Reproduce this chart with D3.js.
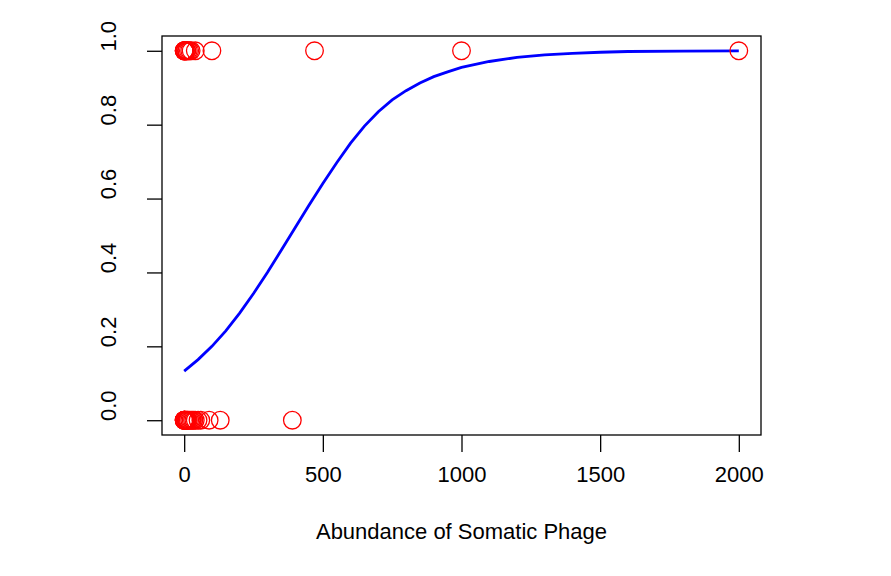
<!DOCTYPE html>
<html><head><meta charset="utf-8">
<script src="https://cdn.jsdelivr.net/npm/d3@7/dist/d3.min.js"></script>
<style>body{margin:0;background:#fff}svg{display:block}text{font-family:"Liberation Sans",Arial,sans-serif}</style>
</head><body>
<script>
// observed points (x = abundance, y = outcome 0/1)
const topX = [0,0,0,1,2,3,5,8,10,15,20,25,40,100,470,1000,2000];
const bottomX = [0,0,0,0,1,2,3,5,7,10,12,15,20,25,30,35,40,50,60,90,130,390];
// fitted curve
const curveX = [0,50,100,150,200,250,300,350,400,450,500,550,600,650,700,750,800,850,900,950,1000,1100,1200,1300,1400,1500,1600,1800,2000];
const curveY = [0.133,0.164,0.200,0.242,0.290,0.343,0.400,0.460,0.521,0.582,0.641,0.697,0.750,0.796,0.835,0.867,0.892,0.913,0.930,0.943,0.955,0.971,0.982,0.989,0.993,0.996,0.998,0.999,0.9995];
const xTicks = [0,500,1000,1500,2000];
const yTicks = [0,0.2,0.4,0.6,0.8,1.0];
const xTitle = "Abundance of Somatic Phage";

const W=891,H=576;
const svg=d3.select("body").append("svg").attr("width",W).attr("height",H);
const x=d3.scaleLinear().domain([-80,2080]).range([162,761]);
const y=d3.scaleLinear().domain([-0.04,1.04]).range([435,36]);
const fs=22;

// box
svg.append("rect").attr("x",162).attr("y",36).attr("width",761-162).attr("height",435-36)
  .attr("fill","none").attr("stroke","#000").attr("stroke-width",1.3);

// x axis
const xa=svg.append("g").attr("transform","translate(0,435)")
  .call(d3.axisBottom(x).tickValues(xTicks).tickSize(17).tickPadding(14).tickFormat(d3.format("d")));
xa.select(".domain").remove();
xa.selectAll("line").attr("stroke","#000").attr("stroke-width",1.3).attr("y1",0);
xa.selectAll("text").attr("font-size",fs).attr("fill","#000").attr("font-family","Liberation Sans, Arial, sans-serif");
// y axis
const ya=svg.append("g").attr("transform","translate(162,0)")
  .call(d3.axisLeft(y).tickValues(yTicks).tickSize(15).tickFormat(d3.format(".1f")));
ya.select(".domain").remove();
ya.selectAll("line").attr("stroke","#000").attr("stroke-width",1.3);
ya.selectAll("text").attr("font-size",fs).attr("fill","#000").attr("font-family","Liberation Sans, Arial, sans-serif")
  .attr("text-anchor","middle").attr("x",null)
  .attr("transform","translate(-46,-15) rotate(-90)").attr("dy","0");

// title
svg.append("text").attr("x",(162+761)/2).attr("y",539).attr("text-anchor","middle")
  .attr("font-size",fs).text(xTitle);

// curve
const curve=curveX.map((v,i)=>[v,curveY[i]]);
svg.append("path").datum(curve).attr("fill","none").attr("stroke","#0000ff").attr("stroke-width",2.8)
  .attr("d",d3.line().x(d=>x(d[0])).y(d=>y(d[1])));

// points
const pts=topX.map(v=>[v,1]).concat(bottomX.map(v=>[v,0]));
svg.append("g").selectAll("circle").data(pts).join("circle")
  .attr("cx",d=>x(d[0])).attr("cy",d=>y(d[1])).attr("r",8.8)
  .attr("fill","none").attr("stroke","#ff0000").attr("stroke-width",1.3);
</script>
</body></html>
